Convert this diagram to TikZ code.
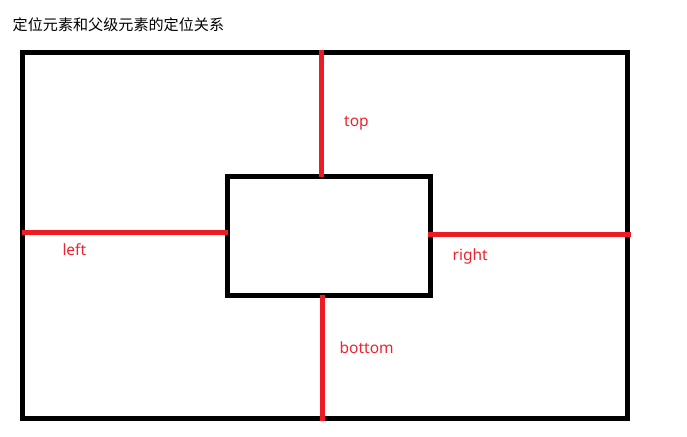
\documentclass[tikz,border=0pt]{standalone}
\usepackage{fontspec}
\setmainfont{Noto Sans}
\newfontfamily\cjk{Noto Sans CJK SC}
\definecolor{pred}{HTML}{ED1C24}
\definecolor{lred}{HTML}{EC2430}
\begin{document}
\begin{tikzpicture}[x=1pt,y=-1pt,
  box/.style={draw=black,line width=5pt,inner sep=0pt,outer sep=0pt,anchor=north west},
  redline/.style={draw=pred,line width=4.7pt},
  lab/.style={text=lred,font=\fontsize{15.5}{18}\selectfont,anchor=base west,inner sep=0pt}]
\useasboundingbox[fill=white] (0,0) rectangle (687,436);
\node[anchor=base west,inner sep=0pt,font=\cjk\fontsize{15.1}{17}\selectfont] (title) at (12.5,31) {定位元素和父级元素的定位关系};
\node[box,minimum width=605pt,minimum height=366pt] (outer) at (22.5,52.5) {};
\node[box,minimum width=203pt,minimum height=118.5pt] (inner) at (227.5,176.5) {};
\coordinate (tA) at (321.5,50);
\coordinate (tB) at (321.5,177);
\coordinate (bA) at (322.3,295);
\coordinate (bB) at (322.3,421);
\coordinate (lA) at (22,232.5);
\coordinate (lB) at (228,232.5);
\coordinate (rA) at (428,234.5);
\coordinate (rB) at (631,234.5);
\draw[redline] (tA) -- (tB);
\draw[redline] (bA) -- (bB);
\draw[redline] (lA) -- (lB);
\draw[redline] (rA) -- (rB);
\node[lab] (ltop) at (344,126) {top};
\node[lab] (lleft) at (62.3,255) {left};
\node[lab] (lright) at (452.5,260) {right};
\node[lab] (lbottom) at (339.5,353.3) {bottom};
\end{tikzpicture}
\end{document}
